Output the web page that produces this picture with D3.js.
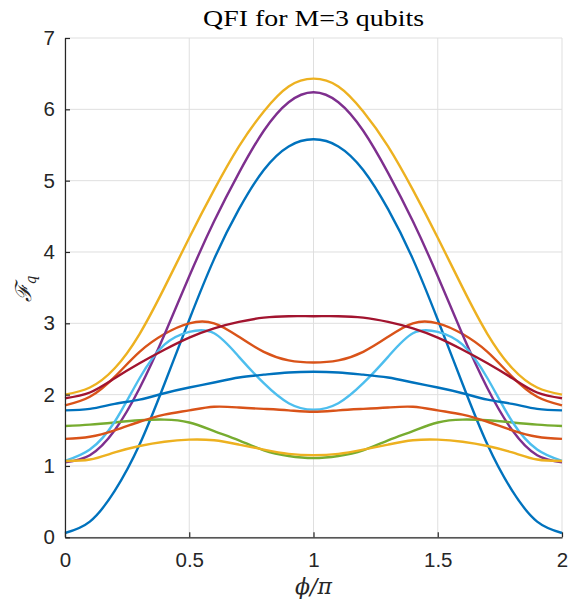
<!DOCTYPE html>
<html>
<head>
<meta charset="utf-8">
<script src="https://cdn.jsdelivr.net/npm/d3@7"></script>
<style>
  body { margin: 0; background: #fff; }
  svg { display: block; }
</style>
</head>
<body>
<svg width="570" height="601"></svg>
<script>
// phi/pi sample points
const phi = [0, 0.1, 0.2, 0.3, 0.4, 0.5, 0.6, 0.7, 0.8, 0.9, 1.0,
             1.1, 1.2, 1.3, 1.4, 1.5, 1.6, 1.7, 1.8, 1.9, 2.0];

// QFI curves (MATLAB default colour order)
const s1  = [0.06, 0.22, 0.65, 1.30, 2.15, 3.05, 3.90, 4.60, 5.15, 5.48, 5.58, 5.48, 5.15, 4.60, 3.90, 3.05, 2.15, 1.30, 0.65, 0.22, 0.06];
const s2  = [1.85, 1.97, 2.25, 2.60, 2.85, 3.00, 3.00, 2.81, 2.60, 2.48, 2.45, 2.48, 2.60, 2.81, 3.00, 3.00, 2.85, 2.60, 2.25, 1.97, 1.85];
const s3  = [2.00, 2.10, 2.37, 2.85, 3.50, 4.20, 4.87, 5.48, 5.97, 6.32, 6.43, 6.32, 5.97, 5.48, 4.87, 4.20, 3.50, 2.85, 2.37, 2.10, 2.00];
const s4  = [1.05, 1.15, 1.50, 2.09, 2.84, 3.66, 4.43, 5.11, 5.70, 6.10, 6.24, 6.10, 5.70, 5.11, 4.43, 3.66, 2.84, 2.09, 1.50, 1.15, 1.05];
const s5  = [1.56, 1.58, 1.61, 1.64, 1.65, 1.61, 1.49, 1.36, 1.22, 1.14, 1.11, 1.14, 1.22, 1.36, 1.49, 1.61, 1.65, 1.64, 1.61, 1.58, 1.56];
const s6  = [1.07, 1.23, 1.62, 2.23, 2.70, 2.88, 2.86, 2.53, 2.16, 1.88, 1.79, 1.88, 2.16, 2.53, 2.86, 2.88, 2.70, 2.23, 1.62, 1.23, 1.07];
const s7  = [1.95, 2.03, 2.23, 2.44, 2.63, 2.80, 2.93, 3.02, 3.08, 3.10, 3.10, 3.10, 3.08, 3.02, 2.93, 2.80, 2.63, 2.44, 2.23, 2.03, 1.95];
const s8  = [1.78, 1.80, 1.87, 1.93, 2.02, 2.10, 2.17, 2.24, 2.28, 2.31, 2.32, 2.31, 2.28, 2.24, 2.17, 2.10, 2.02, 1.93, 1.87, 1.80, 1.78];
const s9  = [1.38, 1.41, 1.50, 1.62, 1.72, 1.78, 1.83, 1.82, 1.80, 1.78, 1.76, 1.78, 1.80, 1.82, 1.83, 1.78, 1.72, 1.62, 1.50, 1.41, 1.38];
const s10 = [1.07, 1.09, 1.19, 1.28, 1.34, 1.37, 1.36, 1.30, 1.23, 1.17, 1.15, 1.17, 1.23, 1.30, 1.36, 1.37, 1.34, 1.28, 1.19, 1.09, 1.07];

const series = [s1, s2, s3, s4, s5, s6, s7, s8, s9, s10];
const colors = ['#0072BD', '#D95319', '#EDB120', '#7E2F8E', '#77AC30',
                '#4DBEEE', '#A2142F', '#0072BD', '#D95319', '#EDB120'];

const xTicks = [0, 0.5, 1, 1.5, 2];
const yTicks = [0, 1, 2, 3, 4, 5, 6, 7];

const svg = d3.select('svg');
const m = { left: 65, right: 562, top: 38, bottom: 537.3 };

const x = d3.scaleLinear().domain([0, 2]).range([m.left, m.right]);
const y = d3.scaleLinear().domain([0, 7]).range([m.bottom, m.top]);

const axisColor = '#262626';
const tickFont = '"Liberation Sans", Arial, sans-serif';

// grid
svg.append('g')
    .selectAll('line')
    .data(xTicks)
    .enter().append('line')
    .attr('x1', d => x(d)).attr('x2', d => x(d))
    .attr('y1', m.top).attr('y2', m.bottom)
    .attr('stroke', '#dfdfdf').attr('stroke-width', 1);

svg.append('g')
    .selectAll('line')
    .data(yTicks)
    .enter().append('line')
    .attr('x1', m.left).attr('x2', m.right)
    .attr('y1', d => y(d)).attr('y2', d => y(d))
    .attr('stroke', '#dfdfdf').attr('stroke-width', 1);

// curves
const line = d3.line()
    .x((d, i) => x(phi[i]))
    .y(d => y(d))
    .curve(d3.curveNatural);

svg.append('g')
    .selectAll('path')
    .data(series)
    .enter().append('path')
    .attr('d', d => line(d))
    .attr('fill', 'none')
    .attr('stroke', (d, i) => colors[i])
    .attr('stroke-width', 2.4)
    .attr('stroke-linejoin', 'round');

// axes (ticks inward like MATLAB)
const xAxis = d3.axisBottom(x).tickValues(xTicks).tickFormat(d3.format('')).tickSizeInner(-5).tickSizeOuter(0).tickPadding(15);
const yAxis = d3.axisLeft(y).tickValues(yTicks).tickFormat(d3.format('d')).tickSizeInner(-5).tickSizeOuter(0).tickPadding(10);

const gx = svg.append('g').attr('transform', `translate(0,${m.bottom})`).call(xAxis);
const gy = svg.append('g').attr('transform', `translate(${m.left},0)`).call(yAxis);

[gx, gy].forEach(g => {
    g.select('.domain').attr('stroke', axisColor).attr('stroke-width', 1.2);
    g.selectAll('.tick line').attr('stroke', axisColor).attr('stroke-width', 1.2);
    g.selectAll('.tick text')
        .attr('fill', axisColor)
        .style('font-family', tickFont)
        .style('font-size', '20.5px');
});
gx.selectAll('.tick text').attr('dy', '0.71em');

// title
svg.append('text')
    .attr('x', x(1)).attr('y', 26)
    .attr('text-anchor', 'middle')
    .attr('textLength', 221)
    .attr('lengthAdjust', 'spacingAndGlyphs')
    .style('font-family', '"Liberation Serif", "DejaVu Serif", serif')
    .style('font-size', '23.5px')
    .attr('fill', '#000')
    .text('QFI for M=3 qubits');

// x label
svg.append('text')
    .attr('x', x(1)).attr('y', 594)
    .attr('text-anchor', 'middle')
    .style('font-family', '"DejaVu Serif", serif')
    .style('font-style', 'italic')
    .style('font-size', '22px')
    .attr('fill', '#262626')
    .text('ϕ/π');

// y label
const yl = svg.append('text')
    .attr('transform', 'translate(31,289) rotate(-90)')
    .attr('text-anchor', 'middle')
    .style('font-family', '"DejaVu Serif", serif')
    .style('font-size', '22px')
    .attr('fill', '#262626');
yl.append('tspan').style('font-style', 'italic').text('ℱ');
yl.append('tspan').attr('dy', 5).style('font-size', '14px').style('font-style', 'italic').text('q');
</script>
</body>
</html>
